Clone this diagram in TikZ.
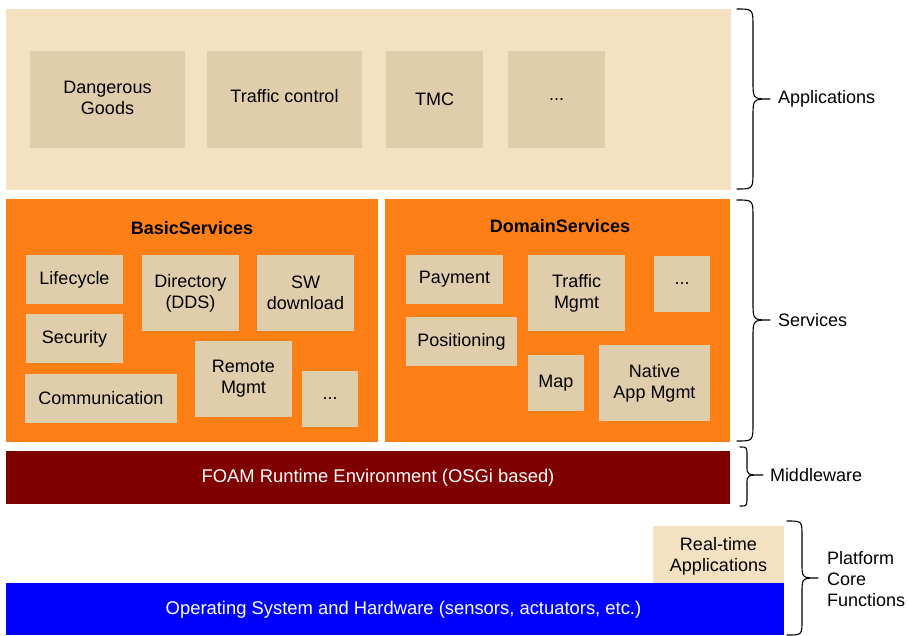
\documentclass[tikz,border=0pt]{standalone}
\usepackage{fontspec}
\setmainfont{Liberation Sans}
\definecolor{cream}{RGB}{243,225,193}
\definecolor{boxtan}{RGB}{224,205,171}
\definecolor{svcorange}{RGB}{255,127,23}
\definecolor{mwred}{RGB}{128,0,0}
\definecolor{osblue}{RGB}{0,0,255}
\begin{document}
\begin{tikzpicture}[x=1pt,y=-1pt,
  font=\fontsize{18}{21}\selectfont,
  every node/.style={inner sep=0pt, outer sep=0pt},
  sz/.style 2 args={minimum width=#1pt, minimum height=#2pt},
  panel/.style={rectangle, fill=#1},
  box/.style={rectangle, fill=boxtan, align=center, text=black},
  title/.style={font=\fontsize{18}{21}\selectfont\bfseries},
  bartext/.style={text=white, font=\fontsize{18.4}{21}\selectfont},
  side/.style={anchor=west, align=left},
  brace/.style={draw=black, line width=1.1pt, line cap=round, line join=round}]
\useasboundingbox (0,0) rectangle (908,635);

% Applications layer
\node[panel=cream, sz={725}{181}] (apps) at (368.5,99.5) {};
\node[box, sz={155}{97}, text depth=4pt] (dg) at (107.5,99.5) {Dangerous\\Goods};
\node[box, sz={155}{97}, text depth=8pt] (tc) at (284.5,99.5) {Traffic control};
\node[box, sz={97}{97}] (tmc) at (434.5,99.5) {TMC};
\node[box, sz={97}{97}] (appmore) at (556.5,99.5) {...};

% Services layer
\node[panel=svcorange, sz={372}{243}] (basic) at (192,320.5) {};
\node[panel=svcorange, sz={345}{243}] (domain) at (557.5,320.5) {};
\node[title] (basict) at (192,228) {BasicServices};
\node[title] (domaint) at (560,226) {DomainServices};

\node[box, sz={97}{49}] (life) at (74.5,279.5) {Lifecycle};
\node[box, sz={97}{76}] (dir) at (190.5,293) {Directory\\(DDS)};
\node[box, sz={97}{76}] (sw) at (305.5,293) {SW\\download};
\node[box, sz={97}{49}] (sec) at (74.5,338.5) {Security};
\node[box, sz={152}{49}] (comm) at (101,398.5) {Communication};
\node[box, sz={97}{76}] (rm) at (243.5,379) {Remote\\Mgmt};
\node[box, sz={56}{56}] (basicmore) at (330,399) {...};

\node[box, sz={97}{49}] (pay) at (454.5,279.5) {Payment};
\node[box, sz={97}{76}] (tm) at (576.5,293) {Traffic\\Mgmt};
\node[box, sz={56}{56}] (dommore) at (682,284) {...};
\node[box, sz={111}{49}] (pos) at (461.5,341.5) {Positioning};
\node[box, sz={56}{56}] (map) at (556,383) {Map};
\node[box, sz={111}{76}] (nam) at (654.5,383) {Native\\App Mgmt};

% Middleware
\node[panel=mwred, sz={724}{53}] (mw) at (368,477.5) {};
\node[bartext] (mwt) at (378,477.5) {FOAM Runtime Environment (OSGi based)};

% Platform core
\node[panel=cream, sz={131}{57}] (rt) at (718.5,554.5) {};
\node[align=center] (rtt) at (718.5,556) {Real-time\\Applications};
\node[panel=osblue, sz={778}{52}] (os) at (395,609) {};
\node[bartext] (ost) at (403.5,610) {Operating System and Hardware (sensors, actuators, etc.)};

% Braces
\draw[brace] (737,9) .. controls (753,9) .. (753,27) -- (753,81)
  .. controls (753,99) .. (770,99) .. controls (753,99) .. (753,117)
  -- (753,171) .. controls (753,189) .. (737,189);
\draw[brace] (737,200) .. controls (753,200) .. (753,218) -- (753,302)
  .. controls (753,320) .. (770,320) .. controls (753,320) .. (753,338)
  -- (753,423) .. controls (753,441) .. (737,441);
\draw[brace] (740,447) .. controls (747,447) .. (747,456) -- (747,466)
  .. controls (747,475) .. (763,475) .. controls (747,475) .. (747,484)
  -- (747,497) .. controls (747,506) .. (740,506);
\draw[brace] (787,521) .. controls (802,521) .. (802,536) -- (802,563)
  .. controls (802,578) .. (818,578) .. controls (802,578) .. (802,593)
  -- (802,620) .. controls (802,635) .. (787,635);

% Layer names
\node[side] (lapps) at (778,99) {Applications};
\node[side] (lsvc) at (778,320) {Services};
\node[side] (lmw) at (770,475) {Middleware};
\node[side] (lpcf) at (827,579) {Platform\\Core\\Functions};
\end{tikzpicture}
\end{document}
